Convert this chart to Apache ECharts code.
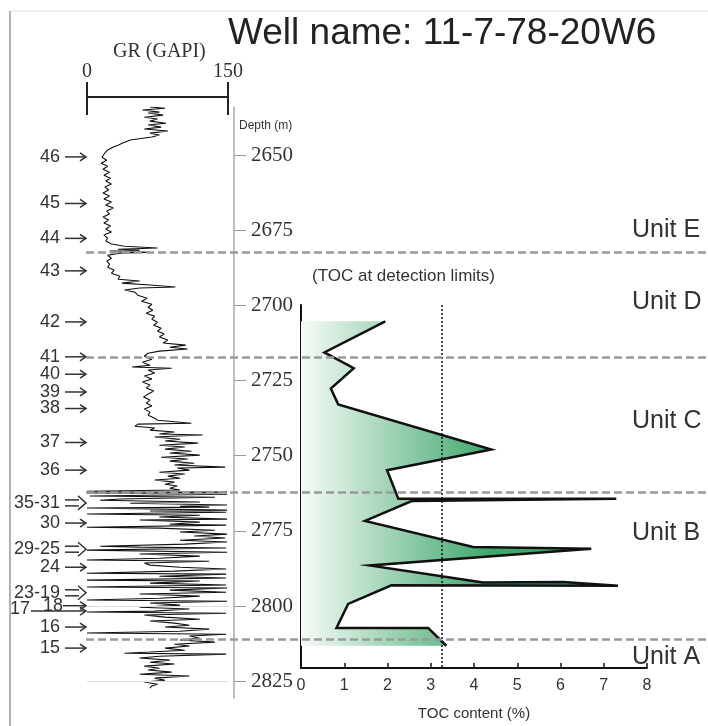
<!DOCTYPE html>
<html>
<head>
<meta charset="utf-8">
<title>Well name: 11-7-78-20W6</title>
<script src="https://cdn.jsdelivr.net/npm/echarts@6.0.0/dist/echarts.min.js"></script>
<style type="text/css">
    body { margin: 0; background: #fff; }
    #main { width: 708px; height: 726px; }
</style>
</head>
<body>
<div id="main"></div>
<script type="text/javascript">
// depth range shared by the GR track, the depth axis and the unit bands (m)
var depthTop = 2634, depthBottom = 2830.6;
var depthTicks = [2650, 2675, 2700, 2725, 2750, 2775, 2800, 2825];

// GR log (GAPI)
var grDepth = [
    2634.0,2634.4,2635.0,2635.7,2636.0,2636.7,2637.4,2638.0,2638.7,2639.4,2640.0,2640.7,2641.3,2642.0,2642.7,2643.3,2644.0,2645.0,2646.0,2646.7,2647.3,2648.3,2649.3,
    2650.7,2651.7,2652.7,2653.7,2654.7,2655.7,2656.7,2657.7,2658.6,2659.6,2660.6,2661.6,2662.6,2663.6,2664.6,2665.6,2666.6,2667.6,2668.6,2669.6,2670.6,2671.6,2672.6,2673.6,2674.6,2675.6,2676.6,2677.6,2678.6,2679.6,
    2680.3,2680.9,2681.3,2681.6,2681.9,2682.3,2682.6,2683.3,2684.3,2685.3,2686.3,2687.3,2688.3,2689.3,2690.3,2691.3,2691.9,2692.6,2693.2,2693.9,2694.2,2694.9,2695.6,2696.6,2697.6,2698.6,2699.6,
    2700.6,2701.6,2702.6,2703.6,2704.6,2705.6,2706.6,2707.6,2708.5,2709.5,2710.5,2711.5,2712.5,2713.2,2713.9,2714.5,2715.2,2715.9,2716.9,2717.9,2718.9,2719.9,
    2720.5,2720.9,2721.5,2722.5,2723.5,2724.5,2725.5,2726.5,2727.5,2728.5,2729.5,2730.5,2731.5,2732.5,2733.5,2734.5,2735.5,2736.5,2737.5,2738.2,2739.2,2739.5,
    2740.2,2740.8,2741.5,2742.1,2742.8,2743.1,2743.8,2744.5,2745.1,2745.8,2746.5,2747.1,2747.8,2748.5,2749.1,2749.8,2750.5,2751.1,2751.8,2752.5,2753.1,2753.8,2754.1,2754.8,2755.5,2756.1,2756.8,2757.5,2758.1,2758.8,2759.5,2760.1,2760.8,2761.4,
    2761.8,2762.1,2762.4,2762.8,2763.4,2763.8,2764.4,2764.8,2765.4,2765.8,2766.4,2766.8,2767.1,2767.4,2768.1,2768.4,2768.8,2769.4,2769.8,2770.4,2771.1,2771.4,2772.1,2772.8,2773.1,2773.8,2774.1,2774.8,2775.4,2776.1,2776.7,2777.4,2778.1,2778.7,2779.4,
    2780.1,2780.4,2780.7,2781.4,2782.1,2782.7,2783.4,2784.1,2784.7,2785.1,2785.7,2786.4,2787.1,2787.7,2788.4,2789.1,2789.4,2790.1,2790.7,2791.4,2791.7,2792.4,2793.0,2793.7,2794.0,2794.7,2795.4,2796.0,2796.7,2797.4,2798.0,2798.4,2799.0,2799.7,
    2800.4,2801.0,2801.7,2802.0,2802.4,2803.0,2803.7,2804.4,2805.0,2805.7,2806.4,2807.0,2807.7,2808.4,2809.0,2809.4,2810.0,2810.7,2811.3,2812.0,2812.7,2813.3,2814.0,2814.7,2815.3,2815.7,2816.0,2816.7,2817.3,2818.0,2818.7,2819.3,
    2820.0,2820.7,2821.3,2822.0,2822.7,2823.3,2824.0,2824.7,2825.3,2826.0,2826.6,2827.3
];
var grValue = [
    67,83,59,77,65,81,61,75,67,84,65,79,61,86,67,77,69,46,38,33,28,22,19,
    16,21,15,22,17,24,18,25,20,26,19,23,17,24,18,26,20,28,21,24,17,23,18,25,20,26,18,22,20,26,
    40,75,33,56,24,67,35,22,26,21,24,22,29,26,35,33,56,37,67,94,56,40,51,54,64,58,69,
    65,70,63,72,69,75,71,79,75,82,77,86,81,105,88,107,77,65,61,69,59,67,
    48,90,65,72,61,69,59,67,63,71,65,60,67,63,69,61,67,65,72,75,111,54,
    51,72,67,93,77,123,72,99,83,118,77,104,83,111,88,120,79,107,88,114,93,147,96,109,77,104,86,99,72,93,83,96,88,99,
    0,149,0,149,3,136,35,14,120,46,149,99,130,0,149,67,148,0,120,77,149,56,120,88,148,0,77,136,99,149,114,147,99,149,104,
    14,56,148,0,149,56,120,77,0,130,61,67,99,148,93,0,148,77,148,0,120,67,148,0,149,88,148,56,120,77,0,149,67,99,
    56,109,72,0,148,61,83,120,67,93,109,83,130,99,0,148,109,120,99,136,93,109,83,104,67,40,148,77,56,88,67,93,
    61,77,65,90,56,109,72,83,61,75,69,67
];

// TOC content (%) against depth
var tocDepth = [2705.5, 2716.0, 2721.3, 2728.2, 2733.5, 2748.7, 2755.7, 2765.3, 2765.3, 2766.1, 2772.8,
    2781.6, 2782.2, 2787.8, 2793.6, 2793.4, 2794.7, 2794.5, 2800.8, 2808.9, 2808.9, 2814.9];
var tocValue = [1.95, 0.54, 1.22, 0.69, 0.86, 4.40, 1.99, 2.25, 7.29, 2.56, 1.48,
    3.98, 6.71, 1.59, 4.21, 6.06, 7.33, 2.09, 1.09, 0.82, 2.94, 3.36];
var tocLimit = 3.25;   // detection limit
var tocAxisTop = 2700, tocAxisBottom = 2822.4;

// bed numbers on the left
var bedName = ['46','45','44','43','42','41','40','39','38','37','36','35-31','30','29-25','24','23-19','18','17','16','15'];
var bedDepth = [2650.6, 2666.1, 2677.7, 2688.5, 2705.5, 2717.1, 2722.9, 2728.8, 2734.3, 2745.6, 2754.8,
    2765.7, 2772.4, 2781.1, 2787.1, 2795.6, 2799.9, 2801.7, 2807.0, 2814.0];

// units
var unitName = ['Unit E', 'Unit D', 'Unit C', 'Unit B', 'Unit A'];
var unitDepth = [2675.0, 2698.9, 2738.4, 2775.9, 2817.0];
var unitBoundary = [2682.4, 2717.1, 2762.3, 2811.2];

var chart = echarts.init(document.getElementById('main'));

var ink = '#222';
var option = {
    backgroundColor: '#fff',
    animation: false,
    title: [
        { text: 'Well name: 11-7-78-20W6', left: 228, top: 15, padding: 0,
          textStyle: { fontFamily: 'Liberation Sans', fontSize: 37, fontWeight: 'normal', color: ink } },
        { text: 'GR (GAPI)', left: 113, top: 42, padding: 0,
          textStyle: { fontFamily: 'Liberation Serif', fontSize: 20, fontWeight: 'normal', color: '#333' } },
        { text: 'Depth (m)', left: 239, top: 120, padding: 0,
          textStyle: { fontFamily: 'Liberation Sans', fontSize: 12, fontWeight: 'normal', color: '#333' } },
        { text: '(TOC at detection limits)', left: 312, top: 268, padding: 0,
          textStyle: { fontFamily: 'Liberation Sans', fontSize: 17, fontWeight: 'normal', color: '#333' } }
    ],
    // frame of the figure
    graphic: [
        { type: 'line', shape: { x1: 10, y1: 11, x2: 10, y2: 726 }, style: { stroke: '#999', lineWidth: 1.5 } },
        { type: 'line', shape: { x1: 10, y1: 11, x2: 708, y2: 11 }, style: { stroke: '#ddd', lineWidth: 1 } }
    ],
    grid: [
        { left: 87, right: 480, top: 107, bottom: 28 },   // GR track
        { left: 301, right: 61, top: 305, bottom: 53 },   // TOC track
        { left: 86, right: 0, top: 107, bottom: 28 },     // unit bands
        { left: 0, width: 87, top: 107, bottom: 28 }      // bed numbers
    ],
    xAxis: [
        { gridIndex: 0, type: 'value', position: 'top', offset: 10, min: 0, max: 150,
          axisLine: { lineStyle: { color: ink, width: 2 } },
          axisTick: { customValues: [0, 150], length: 15, lineStyle: { color: ink, width: 2 } },
          axisLabel: { customValues: [0, 150], margin: 15, fontFamily: 'Liberation Serif', fontSize: 20, color: '#333' },
          splitLine: { show: false } },
        { gridIndex: 0, type: 'value', position: 'top', offset: 10, min: 0, max: 150,
          axisLine: { show: false },
          axisTick: { customValues: [0, 150], inside: true, length: 18, lineStyle: { color: ink, width: 2 } },
          axisLabel: { show: false }, splitLine: { show: false } },
        { gridIndex: 1, type: 'value', min: 0, max: 8, interval: 1,
          axisLine: { lineStyle: { color: '#111', width: 2 } },
          axisTick: { inside: true, length: 5, lineStyle: { color: '#111', width: 1.5 } },
          axisLabel: { margin: 10, fontFamily: 'Liberation Sans', fontSize: 16, color: '#333' },
          splitLine: { show: false },
          name: 'TOC content (%)', nameLocation: 'middle', nameGap: 38,
          nameTextStyle: { fontFamily: 'Liberation Sans', fontSize: 15, color: '#333' } },
        { gridIndex: 2, type: 'value', min: 86, max: 708, show: false },
        { gridIndex: 3, type: 'value', min: 0, max: 87, show: false }
    ],
    yAxis: [
        { gridIndex: 0, type: 'value', inverse: true, min: depthTop, max: depthBottom,
          position: 'right', offset: 6,
          axisLine: { onZero: false, lineStyle: { color: '#aaa', width: 1.5 } },
          axisTick: { customValues: depthTicks, length: 12, lineStyle: { color: '#999' } },
          axisLabel: { customValues: depthTicks, margin: 17, fontFamily: 'Liberation Serif', fontSize: 21, color: '#333',
                       formatter: function (v) { return String(v); } },
          splitLine: { show: false } },
        { gridIndex: 1, type: 'value', inverse: true, min: tocAxisTop, max: tocAxisBottom,
          axisLine: { lineStyle: { color: '#111', width: 2 } },
          axisTick: { show: false }, axisLabel: { show: false }, splitLine: { show: false } },
        { gridIndex: 2, type: 'value', inverse: true, min: depthTop, max: depthBottom, show: false },
        { gridIndex: 3, type: 'value', inverse: true, min: depthTop, max: depthBottom, show: false }
    ],
    series: [
        {
            name: 'GR',
            type: 'line',
            xAxisIndex: 0, yAxisIndex: 0,
            data: grValue.map(function (g, i) { return [g, grDepth[i]]; }),
            symbol: 'none',
            lineStyle: { color: '#111', width: 1.1 },
            z: 3,
            markLine: {
                silent: true, symbol: ['none', 'none'], label: { show: false },
                lineStyle: { color: '#ddd', type: 'solid', width: 1 },
                data: [{ yAxis: 2800 }, { yAxis: 2825 }]
            }
        },
        {
            // green shading between 0 and the TOC curve
            name: 'TOC fill',
            type: 'custom',
            xAxisIndex: 2, yAxisIndex: 1,
            data: [[0, tocDepth[0]]],
            z: 1,
            renderItem: function (params, api) {
                var pts = tocDepth.map(function (d, i) { return api.coord([tocValue[i], d]); });
                pts.push(api.coord([0, tocDepth[tocDepth.length - 1]]));
                pts.push(api.coord([0, tocDepth[0]]));
                var x0 = api.coord([0, tocDepth[0]])[0];
                var x1 = api.coord([4.4, tocDepth[0]])[0];
                return {
                    type: 'polygon',
                    shape: { points: pts },
                    style: {
                        fill: { type: 'linear', x: x0, y: 0, x2: x1, y2: 0, global: true,
                                colorStops: [{ offset: 0, color: '#f6fbf7' }, { offset: 1, color: '#3ea76c' }] },
                        stroke: null
                    }
                };
            }
        },
        {
            name: 'TOC',
            type: 'line',
            xAxisIndex: 2, yAxisIndex: 1,
            data: tocValue.map(function (v, i) { return [v, tocDepth[i]]; }),
            symbol: 'none',
            lineStyle: { color: '#111', width: 2.5, join: 'miter' },
            z: 3,
            markLine: {
                silent: true, symbol: ['none', 'none'], label: { show: false },
                lineStyle: { color: '#111', type: [2, 2], width: 1.5 },
                data: [{ xAxis: tocLimit }]
            }
        },
        {
            name: 'Units',
            type: 'custom',
            xAxisIndex: 3, yAxisIndex: 2,
            data: unitDepth.map(function (d, i) { return [i, d]; }),
            z: 2,
            renderItem: function (params, api) {
                var p = api.coord([632, api.value(1)]);
                return {
                    type: 'text',
                    style: { text: unitName[api.value(0)], x: p[0], y: p[1], align: 'left', verticalAlign: 'middle',
                             fontFamily: 'Liberation Sans', fontSize: 25, fill: '#333' }
                };
            },
            markLine: {
                silent: true, symbol: ['none', 'none'], label: { show: false },
                lineStyle: { color: '#9a9a9a', type: [8, 4], width: 2.5 },
                data: unitBoundary.map(function (d) { return { yAxis: d }; })
            }
        },
        {
            name: 'Beds',
            type: 'custom',
            xAxisIndex: 4, yAxisIndex: 3,
            data: bedDepth.map(function (d, i) { return [i, d]; }),
            z: 2,
            renderItem: function (params, api) {
                var name = bedName[api.value(0)];
                var y = api.coord([0, api.value(1)])[1];
                var textRight = 60, start = 65, tip = 86, ty = y;
                if (name === '18') { textRight = 63; start = 63; }
                if (name === '17') { textRight = 30; start = 31; ty = y - 2; }
                var pen = { stroke: '#333', lineWidth: 1.5, fill: null };
                var children = [{
                    type: 'text',
                    style: { text: name, x: textRight, y: ty, align: 'right', verticalAlign: 'middle',
                             fontFamily: 'Liberation Sans', fontSize: 18, fill: '#333' }
                }];
                if (name.indexOf('-') > 0) {
                    // hollow double arrow for grouped beds
                    children.push({ type: 'polyline', shape: { points: [[start, y - 3], [tip - 7, y - 3]] }, style: pen });
                    children.push({ type: 'polyline', shape: { points: [[start, y + 3], [tip - 7, y + 3]] }, style: pen });
                    children.push({ type: 'polyline', shape: { points: [[tip - 8, y - 7], [tip, y], [tip - 8, y + 7]] }, style: pen });
                } else {
                    children.push({ type: 'polyline', shape: { points: [[start, y], [tip, y]] }, style: pen });
                    children.push({ type: 'polyline', shape: { points: [[tip - 6, y - 4], [tip, y], [tip - 6, y + 4]] }, style: pen });
                }
                return { type: 'group', children: children };
            }
        }
    ]
};

chart.setOption(option);
</script>
</body>
</html>
